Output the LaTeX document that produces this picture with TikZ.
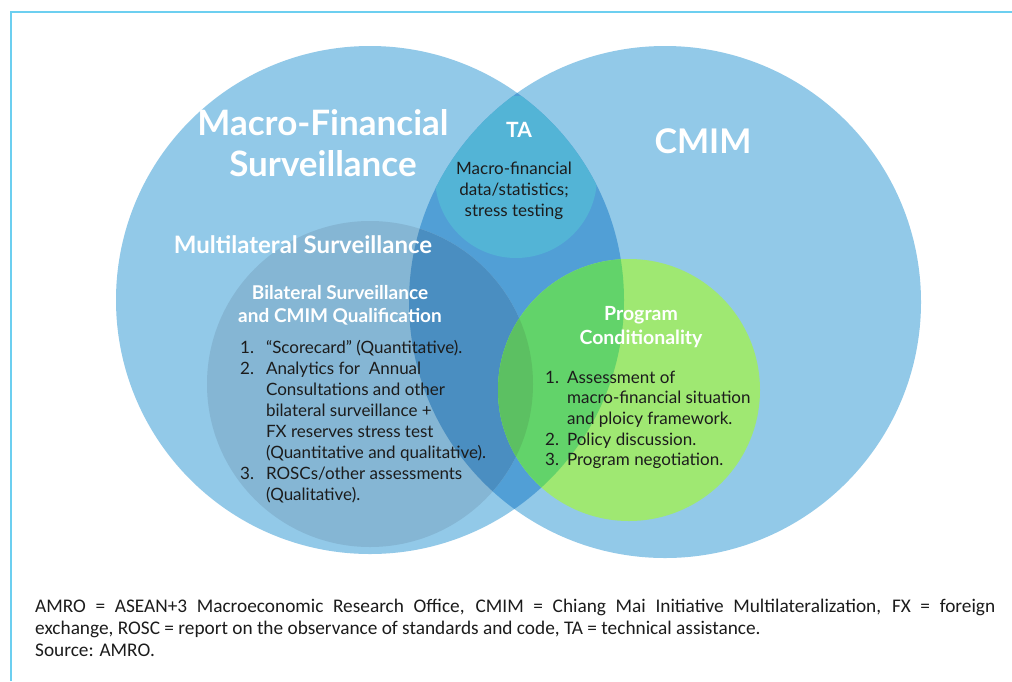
\documentclass[tikz,border=0pt]{standalone}
\usepackage{fontspec}
\setmainfont{Lato}
\newfontfamily\notefont{Carlito}
\definecolor{cBig}{HTML}{92C9E8}
\definecolor{cLens}{HTML}{519FD6}
\definecolor{cMul}{HTML}{85B6D4}
\definecolor{cMulLens}{HTML}{4A8EC1}
\definecolor{cTA}{HTML}{53B4D6}
\definecolor{cGreen}{HTML}{9FE872}
\definecolor{cGreenLens}{HTML}{62D36A}
\definecolor{cGreenMul}{HTML}{5CC062}
\definecolor{cBorder}{HTML}{6CCFF0}
\definecolor{cText}{HTML}{1C1C1C}
\tikzset{
  head/.style={text=white, inner sep=0pt, align=center, font=\bfseries},
  body/.style={text=cText, inner sep=0pt},
  note/.style={text=cText, inner sep=0pt, anchor=base west, font=\notefont\fontsize{19.3}{22}\selectfont},
}
\begin{document}
\begin{tikzpicture}[x=1pt,y=-1pt]
\useasboundingbox (0,0) rectangle (1012,681);
\fill[white] (0,0) rectangle (1012,681);
\draw[cBorder, line width=1.3pt] (11,681) -- (11,12) -- (1012,12);
% circles
\fill[cBig] (370,300) circle[radius=254];
\fill[cBig] (665,302) circle[radius=256];
\begin{scope}
  \clip (370,300) circle[radius=254];
  \fill[cLens] (665,302) circle[radius=256];
\end{scope}
\fill[cMul] (370,384) circle[radius=163];
\begin{scope}
  \clip (370,384) circle[radius=163];
  \fill[cMulLens] (665,302) circle[radius=256];
\end{scope}
\begin{scope}
  \clip (370,300) circle[radius=254];
  \clip (665,302) circle[radius=256];
  \fill[cTA] (516,177) circle[radius=81];
\end{scope}
\fill[cGreen] (629,390) circle[radius=131];
\begin{scope}
  \clip (629,390) circle[radius=131];
  \fill[cGreenLens] (370,300) circle[radius=254];
  \fill[cGreenMul] (370,384) circle[radius=163];
\end{scope}
% headings
\node[head, font=\bfseries\fontsize{35}{41}\selectfont] (mfs) at (323,143) {Macro-Financial\\Surveillance};
\node[head, font=\bfseries\fontsize{34}{41}\selectfont] (cmim) at (703,141) {CMIM};
\node[head, font=\bfseries\fontsize{21}{25}\selectfont] (ta) at (519,130) {TA};
\node[head, font=\bfseries\fontsize{24}{28}\selectfont] (multi) at (303,245) {Multilateral Surveillance};
\node[head, font=\bfseries\fontsize{19}{23}\selectfont] (bilat) at (340,305) {Bilateral Surveillance\\and CMIM Qualification};
\node[head, font=\bfseries\fontsize{19.5}{24}\selectfont] (prog) at (641,327) {Program\\Conditionality};
% body texts
\node[body, align=center, font=\fontsize{17}{21}\selectfont] (tatext) at (514,191) {Macro-financial\\data/statistics;\\stress testing};
\node[body, anchor=base west, font=\fontsize{17}{21}\selectfont] (leftlist) at (240,353) {%
\begin{tabular}[t]{@{}r@{\hspace{12pt}}l@{}}
1. & ``Scorecard'' (Quantitative).\\
2. & Analytics for\ \ Annual\\
   & Consultations and other\\
   & bilateral surveillance +\\
   & FX reserves stress test\\
   & (Quantitative and qualitative).\\
3. & ROSCs/other assessments\\
   & (Qualitative).
\end{tabular}};
\node[body, anchor=base west, font=\fontsize{17}{20.7}\selectfont] (rightlist) at (545,383) {%
\begin{tabular}[t]{@{}r@{\hspace{8pt}}l@{}}
1. & Assessment of\\
   & macro-financial situation\\
   & and ploicy framework.\\
2. & Policy discussion.\\
3. & Program negotiation.
\end{tabular}};
% notes
\node[note] (n1) at (35,612) {\makebox[960pt][s]{AMRO = ASEAN+3 Macroeconomic Research Office, CMIM = Chiang Mai Initiative Multilateralization, FX = foreign}};
\node[note] (n2) at (35,634) {exchange, ROSC = report on the observance of standards and code, TA = technical assistance.};
\node[note] (n3) at (35,656) {Source: AMRO.};
\end{tikzpicture}
\end{document}
